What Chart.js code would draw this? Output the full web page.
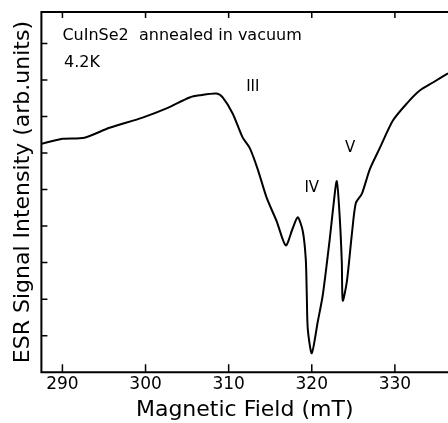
<!DOCTYPE html>
<html>
<head>
<meta charset="utf-8">
<script src="https://cdn.jsdelivr.net/npm/chart.js@4/dist/chart.umd.min.js"></script>
<style>
  body { margin: 0; background: #fff; }
  #wrap { width: 448px; height: 423px; position: relative; }
</style>
</head>
<body>
<div id="wrap"><canvas id="myChart"></canvas></div>
<script>
// ESR spectrum (field in mT, intensity in arb. units)
const fieldValues = [
  287.47, 290.0, 292.65, 295.66, 299.64, 302.53, 305.3, 306.5, 308.55, 309.28,
  310.48, 311.69, 312.53, 313.49, 314.58, 315.78, 316.87, 317.71, 318.31, 318.92,
  319.28, 319.4, 319.52, 320.0, 320.72, 321.33, 322.17, 322.53, 323.01, 323.37,
  323.61, 323.73, 324.22, 324.82, 325.3, 326.02, 326.99, 328.19, 329.76, 331.45,
  332.99, 334.58, 336.39
];
const signalValues = [
  6.25, 6.39, 6.42, 6.69, 6.97, 7.22, 7.52, 7.58, 7.63, 7.52,
  7.08, 6.42, 6.14, 5.56, 4.77, 4.13, 3.47, 3.94, 4.24, 3.86,
  3.09, 2.12, 1.18, 0.52, 1.38, 2.12, 3.66, 4.41, 5.23, 4.21,
  3.03, 1.96, 2.48, 3.77, 4.63, 4.88, 5.56, 6.14, 6.89, 7.36,
  7.71, 7.93, 8.18
];
const fieldTicks = [290, 300, 310, 320, 330];
const intensityTicks = [1, 2, 3, 4, 5, 6, 7, 8, 9];

// line labels: [text, field, intensity]
const peakLabels = [['III', 312.9, 7.8], ['IV', 320.0, 5.04], ['V', 324.6, 6.14]];
const noteLabels = [['CuInSe2  annealed in vacuum', 290.0, 9.2], ['4.2K', 290.2, 8.48]];

const points = fieldValues.map((f, i) => ({ x: f, y: signalValues[i] }));

// frame with inward ticks + text annotations
const framePlugin = {
  id: 'frame',
  afterDraw(chart) {
    const { ctx, chartArea: a, scales } = chart;
    const xs = scales.x, ys = scales.y;
    ctx.save();
    ctx.strokeStyle = '#000';
    ctx.lineWidth = 2;
    ctx.beginPath();
    ctx.moveTo(a.right + 2, a.top);
    ctx.lineTo(a.left, a.top);
    ctx.lineTo(a.left, a.bottom);
    ctx.lineTo(a.right + 2, a.bottom);
    ctx.stroke();
    ctx.lineWidth = 1.5;
    ctx.beginPath();
    fieldTicks.forEach(v => {
      const px = xs.getPixelForValue(v);
      ctx.moveTo(px, a.bottom);
      ctx.lineTo(px, a.bottom - 8);
      ctx.moveTo(px, a.top);
      ctx.lineTo(px, a.top + 6);
    });
    intensityTicks.forEach(v => {
      const py = ys.getPixelForValue(v);
      ctx.moveTo(a.left, py);
      ctx.lineTo(a.left + 6, py);
    });
    ctx.stroke();

    ctx.fillStyle = '#000';
    ctx.textBaseline = 'middle';
    ctx.font = '15px "DejaVu Sans"';
    ctx.textAlign = 'center';
    peakLabels.forEach(([t, x, y]) => {
      ctx.fillText(t, xs.getPixelForValue(x), ys.getPixelForValue(y));
    });
    ctx.font = '16px "DejaVu Sans"';
    ctx.textAlign = 'left';
    noteLabels.forEach(([t, x, y]) => {
      ctx.fillText(t, xs.getPixelForValue(x), ys.getPixelForValue(y));
    });
    ctx.restore();
  }
};

const ctx = document.getElementById('myChart').getContext('2d');
const myChart = new Chart(ctx, {
  type: 'line',
  data: {
    datasets: [{
      data: points,
      borderColor: '#000',
      borderWidth: 2,
      pointRadius: 0,
      tension: 0.25,
      fill: false
    }]
  },
  options: {
    responsive: true,
    maintainAspectRatio: false,
    devicePixelRatio: 1,
    animation: false,
    layout: { padding: { left: 10, top: 12, right: 0, bottom: 0 } },
    plugins: {
      legend: { display: false },
      tooltip: { enabled: false }
    },
    scales: {
      x: {
        type: 'linear',
        min: 287.47,
        max: 336.39,
        grid: { display: false, drawTicks: false },
        border: { display: false },
        ticks: {
          stepSize: 10,
          includeBounds: false,
          color: '#000',
          padding: 2,
          maxRotation: 0,
          font: { family: 'DejaVu Sans', size: 17 }
        },
        title: {
          display: true,
          text: 'Magnetic Field (mT)',
          color: '#000',
          padding: { top: 0, bottom: 0 },
          font: { family: 'DejaVu Sans', size: 22 }
        }
      },
      y: {
        min: 0,
        max: 9.86,
        grid: { display: false, drawTicks: false },
        border: { display: false },
        ticks: { display: false, stepSize: 1 },
        title: {
          display: true,
          text: 'ESR Signal Intensity (arb.units)',
          color: '#000',
          padding: { top: 0, bottom: 5 },
          font: { family: 'DejaVu Sans', size: 22 }
        }
      }
    }
  },
  plugins: [framePlugin]
});
</script>
</body>
</html>
